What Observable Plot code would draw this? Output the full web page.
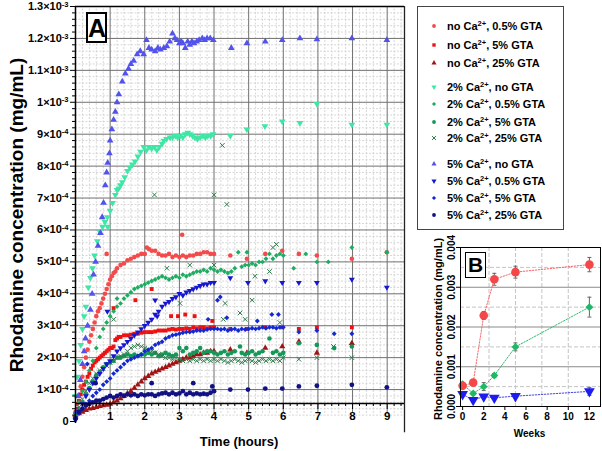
<!DOCTYPE html>
<html><head><meta charset="utf-8">
<script src="https://cdn.jsdelivr.net/npm/d3@7"></script>
<script src="https://cdn.jsdelivr.net/npm/@observablehq/plot@0.6"></script>
<style>
body{margin:0;background:#fff;font-family:"Liberation Sans",Arial,sans-serif;}
#wrap{position:relative;width:602px;height:451px;overflow:hidden;background:#fff;}
#wrap svg{position:absolute;}
.box{position:absolute;border:2px solid #000;background:#fff;font-weight:bold;text-align:center;box-sizing:border-box;}
#legend{position:absolute;left:417px;top:6px;width:147px;height:224px;border:1.5px solid #444;box-sizing:border-box;background:#fff;}
.lrow{position:absolute;left:0;height:14px;font-size:11px;font-weight:bold;line-height:14px;white-space:nowrap;}
.lrow svg{position:absolute;left:11px;top:2px;}
.lrow span{position:absolute;left:29px;top:0;}
.lrow sup{font-size:7.5px;vertical-align:0;position:relative;top:-4px;}
</style></head><body><div id="wrap"></div>
<script>
// ---- Panel A data: [time (hours), concentration in units of 1e-4 mg/mL] ----
const noCa_05GTA = [[0,0.3],[0.05,0.55],[0.1,0.8],[0.15,1.1],[0.2,1.4],[0.25,1.7],[0.3,2.0],[0.35,2.25],[0.4,2.5],[0.45,2.7],[0.5,2.9],[0.55,3.1],[0.6,3.3],[0.65,3.45],[0.7,3.55],[0.75,3.7],[0.8,3.85],[0.85,4.0],[0.9,4.15],[0.9,5.25],[0.95,4.3],[1.0,4.45],[1.05,4.55],[1.1,4.65],[1.15,4.7],[1.2,4.8],[1.3,4.9],[1.4,4.95],[1.5,5.05],[1.6,5.1],[1.7,5.15],[1.8,5.2],[1.9,5.25],[2.0,5.25],[2.06,5.45],[2.12,5.4],[2.2,5.35],[2.3,5.35],[2.4,5.25],[2.5,5.2],[2.6,5.2],[2.7,5.25],[2.8,5.15],[2.9,5.2],[3.0,5.15],[3.08,5.85],[3.1,5.2],[3.2,5.15],[3.3,5.2],[3.4,5.2],[3.5,5.25],[3.6,5.25],[3.7,5.3],[3.8,5.3],[3.9,5.25],[4.0,5.25],[4.47,5.2],[4.95,5.1],[5.48,5.25],[5.97,5.35],[6.45,5.25],[6.97,5.2],[7.98,5.1],[8.99,5.3]];
const noCa_5GTA = [[0,0.1],[0.05,0.4],[0.1,0.65],[0.15,0.85],[0.2,1.0],[0.25,1.15],[0.3,1.25],[0.35,1.4],[0.4,1.5],[0.45,1.65],[0.5,1.75],[0.55,1.85],[0.6,1.9],[0.65,1.95],[0.7,2.0],[0.75,2.05],[0.8,2.1],[0.85,2.15],[0.9,2.2],[0.95,2.25],[1.0,2.3],[1.05,2.3],[1.1,2.35],[1.1,3.55],[1.15,2.55],[1.2,2.6],[1.25,2.65],[1.3,2.65],[1.4,2.7],[1.5,2.7],[1.6,2.72],[1.7,2.75],[1.73,3.8],[1.8,2.75],[1.9,2.78],[2.0,2.8],[2.1,2.8],[2.2,2.8],[2.2,4.15],[2.3,2.82],[2.4,2.85],[2.5,2.85],[2.6,2.85],[2.7,2.88],[2.76,3.3],[2.8,2.9],[2.9,2.88],[2.96,3.3],[3.0,2.9],[3.1,2.9],[3.17,3.35],[3.2,2.92],[3.3,2.9],[3.4,2.95],[3.44,3.3],[3.5,2.92],[3.6,2.95],[3.7,2.95],[3.8,2.92],[3.9,2.95],[3.95,3.15],[4.0,2.95],[4.47,2.9],[4.95,2.9],[5.48,2.95],[5.97,2.95],[6.45,2.9],[6.97,2.95],[7.98,2.95]];
const noCa_25GTA = [[0,0.2],[0.1,0.25],[0.2,0.3],[0.3,0.35],[0.4,0.4],[0.5,0.42],[0.6,0.45],[0.7,0.48],[0.8,0.5],[0.9,0.52],[1.0,0.55],[1.1,0.6],[1.2,0.65],[1.3,0.72],[1.4,0.8],[1.5,0.88],[1.6,0.95],[1.7,1.05],[1.8,1.15],[1.9,1.25],[2.0,1.35],[2.1,1.42],[2.2,1.5],[2.3,1.55],[2.4,1.6],[2.5,1.65],[2.6,1.7],[2.7,1.75],[2.8,1.8],[2.9,1.85],[3.0,1.9],[3.1,1.95],[3.2,2.0],[3.3,2.0],[3.4,2.05],[3.5,2.1],[3.6,2.1],[3.7,2.15],[3.8,2.15],[3.9,2.2],[4.0,2.2],[4.47,2.25],[4.95,2.15],[5.48,2.3],[5.97,2.35],[6.45,2.5],[6.97,2.15],[7.98,2.45]];
const Ca2_noGTA = [[0,0.8],[0.05,1.4],[0.1,1.9],[0.15,2.4],[0.2,2.9],[0.25,3.3],[0.3,3.6],[0.37,4.2],[0.43,4.5],[0.49,4.8],[0.55,5.2],[0.63,5.65],[0.7,5.95],[0.78,6.1],[0.85,6.25],[0.92,6.4],[0.93,6.1],[1.0,6.6],[1.07,6.85],[1.15,7.1],[1.2,7.25],[1.25,7.3],[1.3,7.4],[1.35,7.5],[1.42,7.65],[1.5,7.85],[1.57,7.95],[1.64,8.05],[1.72,8.15],[1.8,8.3],[1.88,8.45],[1.97,8.6],[2.05,8.5],[2.12,8.6],[2.2,8.55],[2.28,8.6],[2.35,8.5],[2.42,8.6],[2.5,8.7],[2.55,8.8],[2.63,8.85],[2.73,8.9],[2.8,8.9],[2.88,8.95],[2.95,8.9],[3.02,8.95],[3.1,8.9],[3.17,9.0],[3.24,9.05],[3.3,9.0],[3.38,8.95],[3.45,8.9],[3.52,8.85],[3.6,8.9],[3.68,8.95],[3.75,8.9],[3.82,8.95],[3.9,8.95],[3.97,9.0],[4.47,8.95],[4.95,9.15],[5.47,9.25],[5.97,9.4],[6.48,9.35],[6.97,9.95],[7.98,9.3],[8.99,9.3]];
const Ca2_05GTA = [[0,0.2],[0.1,0.6],[0.2,0.95],[0.3,1.25],[0.4,1.6],[0.5,1.9],[0.6,2.3],[0.7,2.65],[0.8,2.9],[0.9,3.1],[1.0,3.3],[1.1,3.45],[1.2,3.6],[1.2,3.85],[1.3,3.7],[1.4,3.85],[1.5,3.95],[1.6,4.05],[1.7,4.15],[1.8,4.2],[1.9,4.25],[2.0,4.3],[2.1,4.35],[2.2,4.4],[2.3,4.45],[2.4,4.5],[2.5,4.55],[2.6,4.5],[2.7,4.45],[2.8,4.5],[2.9,4.55],[3.0,4.5],[3.1,4.6],[3.2,4.55],[3.3,4.6],[3.4,4.65],[3.5,4.7],[3.6,4.7],[3.7,4.75],[3.8,4.7],[3.9,4.8],[4.0,4.75],[4.1,4.7],[4.2,4.75],[4.3,4.7],[4.4,4.65],[4.5,4.7],[4.6,4.8],[4.7,5.3],[4.8,4.85],[4.9,4.9],[4.95,5.3],[5.0,4.9],[5.1,4.95],[5.2,4.9],[5.3,5.0],[5.4,5.0],[5.5,5.1],[5.6,5.25],[5.7,5.1],[5.8,5.2],[5.9,5.25],[6.0,5.2],[6.3,4.8],[6.65,5.25],[6.97,5.0],[7.3,5.0],[7.98,5.45],[8.99,5.3]];
const Ca2_5GTA = [[0,0.1],[0.1,0.35],[0.2,0.6],[0.3,0.85],[0.4,1.05],[0.5,1.25],[0.6,1.45],[0.7,1.55],[0.8,1.7],[0.9,1.8],[1.0,1.85],[1.1,1.9],[1.2,2.0],[1.3,2.0],[1.4,2.05],[1.5,2.1],[1.6,2.05],[1.7,2.1],[1.8,2.05],[1.9,2.1],[2.0,2.1],[2.1,2.15],[2.2,2.1],[2.3,2.15],[2.4,2.05],[2.5,2.1],[2.6,2.15],[2.7,2.1],[2.8,2.05],[2.9,2.1],[3.0,2.3],[3.1,2.2],[3.2,2.3],[3.3,2.1],[3.4,2.15],[3.5,2.2],[3.6,2.3],[3.7,2.15],[3.8,2.2],[3.9,2.2],[4.0,2.15],[4.1,2.1],[4.2,2.15],[4.3,2.2],[4.4,2.1],[4.5,2.15],[4.6,2.2],[4.75,2.35],[4.8,2.15],[4.9,2.1],[5.0,2.15],[5.1,2.2],[5.2,2.1],[5.3,2.15],[5.4,2.2],[5.6,2.6],[5.7,2.15],[5.8,2.2],[5.9,2.1],[6.0,2.15],[6.45,2.45],[6.97,2.4],[7.47,2.3],[7.98,2.35]];
const Ca2_25GTA = [[0,0.2],[0.1,0.45],[0.2,0.7],[0.3,0.95],[0.4,1.2],[0.5,1.35],[0.6,1.5],[0.7,1.6],[0.8,1.65],[0.9,1.75],[1.0,1.85],[1.1,1.9],[1.1,3.2],[1.2,2.0],[1.3,2.05],[1.4,2.1],[1.5,2.2],[1.6,2.3],[1.7,2.35],[1.8,2.4],[1.9,2.35],[2.0,2.3],[2.1,2.25],[2.2,2.2],[2.28,7.1],[2.3,2.15],[2.4,2.1],[2.5,2.05],[2.6,2.0],[2.64,4.8],[2.7,2.0],[2.8,1.95],[2.9,2.0],[3.0,1.95],[3.02,3.7],[3.1,1.9],[3.2,1.95],[3.3,1.9],[3.3,4.9],[3.4,1.95],[3.5,1.9],[3.6,1.95],[3.7,1.9],[3.8,1.95],[3.9,1.9],[4.0,1.95],[4.0,4.9],[4.0,7.1],[4.1,1.9],[4.2,1.95],[4.24,8.65],[4.27,3.2],[4.3,1.9],[4.32,3.7],[4.37,6.8],[4.4,1.85],[4.5,1.9],[4.6,1.95],[4.7,1.9],[4.75,3.4],[4.8,1.85],[4.9,1.9],[4.9,3.2],[5.0,1.95],[5.1,1.9],[5.1,3.8],[5.18,4.55],[5.2,1.85],[5.3,1.9],[5.4,1.95],[5.5,1.9],[5.6,4.7],[5.6,1.95],[5.7,5.45],[5.7,1.9],[5.8,5.55],[5.8,1.95],[5.9,3.1],[5.9,1.9],[6.0,2.0],[6.45,1.95],[6.97,2.0],[7.45,2.35],[7.98,2.0]];
const Ca5_noGTA = [[0.02,0.3],[0.08,0.8],[0.14,1.3],[0.2,1.8],[0.25,2.2],[0.29,2.6],[0.35,3.0],[0.43,3.5],[0.48,4.0],[0.52,4.6],[0.58,5.0],[0.65,5.5],[0.72,5.9],[0.77,6.4],[0.81,6.85],[0.86,7.4],[0.9,7.8],[0.93,8.1],[0.98,8.4],[1.0,8.8],[1.05,9.15],[1.1,9.45],[1.15,9.7],[1.2,10.0],[1.25,10.25],[1.35,10.65],[1.44,10.9],[1.53,11.05],[1.6,11.2],[1.68,11.3],[1.78,11.5],[1.87,11.6],[1.97,11.5],[2.05,11.95],[2.12,11.7],[2.2,11.65],[2.3,11.6],[2.38,11.7],[2.45,11.65],[2.55,11.7],[2.64,11.75],[2.72,11.9],[2.8,12.15],[2.87,12.0],[2.93,11.95],[3.0,11.85],[3.05,11.9],[3.1,11.85],[3.17,11.7],[3.24,11.9],[3.3,11.8],[3.36,11.9],[3.42,11.85],[3.5,11.9],[3.57,11.95],[3.66,12.0],[3.73,11.95],[3.8,12.0],[3.89,12.0],[3.98,11.95],[4.5,11.7],[4.95,11.85],[5.48,11.9],[5.97,11.95],[6.48,12.0],[6.97,11.97],[7.98,12.0],[8.99,11.95]];
const Ca5_05GTA = [[0,0.05],[0.1,0.3],[0.2,0.55],[0.3,0.8],[0.4,1.0],[0.5,1.2],[0.6,1.35],[0.7,1.5],[0.8,1.65],[0.9,1.8],[0.92,3.45],[1.0,1.9],[1.1,2.05],[1.2,2.2],[1.3,2.3],[1.4,2.4],[1.5,2.5],[1.6,2.6],[1.7,2.7],[1.8,2.8],[1.9,2.9],[2.0,3.0],[2.1,3.1],[2.2,3.2],[2.3,3.8],[2.3,3.35],[2.36,3.3],[2.4,3.45],[2.5,3.6],[2.6,3.7],[2.7,3.75],[2.8,3.85],[2.9,3.9],[3.0,4.0],[3.1,3.95],[3.2,4.05],[3.3,4.1],[3.4,4.15],[3.5,4.2],[3.6,4.25],[3.7,4.3],[3.8,4.3],[3.9,4.35],[4.0,4.35],[4.47,4.5],[4.98,4.35],[5.48,4.4],[5.97,4.35],[6.45,4.35],[6.97,4.35],[7.98,4.45],[8.99,4.2]];
const Ca5_5GTA = [[0,0.1],[0.1,0.25],[0.2,0.4],[0.3,0.55],[0.34,1.8],[0.4,0.65],[0.5,0.8],[0.6,0.9],[0.7,1.0],[0.8,1.15],[0.9,1.25],[1.0,1.35],[1.1,1.5],[1.2,1.6],[1.3,1.7],[1.4,1.8],[1.5,1.9],[1.6,1.95],[1.7,2.0],[1.8,2.05],[1.9,2.1],[2.0,2.2],[2.1,2.25],[2.2,2.3],[2.3,2.4],[2.4,2.45],[2.5,2.5],[2.6,2.6],[2.7,2.65],[2.8,2.7],[2.9,2.72],[3.0,2.75],[3.1,2.78],[3.2,2.8],[3.3,2.8],[3.4,2.82],[3.5,2.85],[3.6,2.85],[3.7,2.85],[3.8,2.88],[3.83,3.2],[3.9,2.9],[4.0,2.9],[4.1,2.9],[4.1,3.8],[4.18,3.9],[4.2,2.88],[4.3,2.9],[4.37,3.25],[4.4,2.85],[4.5,2.88],[4.6,2.9],[4.7,2.85],[4.8,2.9],[4.9,2.88],[5.0,2.9],[5.1,2.92],[5.2,2.9],[5.25,3.15],[5.3,2.92],[5.4,2.95],[5.5,2.92],[5.6,2.95],[5.67,3.35],[5.7,2.95],[5.8,2.92],[5.86,3.35],[5.9,2.95],[6.0,2.95],[6.45,2.8],[6.97,2.85],[7.47,2.75],[7.98,2.75]];
const Ca5_25GTA = [[0,0.1],[0.1,0.3],[0.2,0.4],[0.3,0.5],[0.4,0.55],[0.5,0.6],[0.58,1.2],[0.6,0.65],[0.7,0.65],[0.8,0.7],[0.9,0.75],[1.0,0.8],[1.1,0.75],[1.2,0.8],[1.3,0.85],[1.4,0.8],[1.5,0.85],[1.6,0.82],[1.7,0.85],[1.8,0.8],[1.9,0.85],[2.0,0.82],[2.1,0.85],[2.2,1.2],[2.2,0.85],[2.3,0.8],[2.4,0.85],[2.5,0.88],[2.6,0.9],[2.7,0.85],[2.8,0.9],[2.9,0.85],[3.0,0.88],[3.1,0.95],[3.2,0.85],[3.3,0.9],[3.4,1.2],[3.4,0.85],[3.5,0.88],[3.6,0.85],[3.7,0.87],[3.8,0.85],[3.9,0.9],[3.95,1.1],[4.0,0.95],[4.47,1.0],[4.98,1.0],[5.48,1.03],[5.97,1.03],[6.45,1.1],[6.97,1.12],[7.98,1.15],[8.99,1.07]];

// ---- Panel B data (weeks, mg/mL) ----
const weeks = [0,1,2,3,5,12];
const B_noCa = [0.00052,0.00060,0.00229,0.00320,0.00338,0.00357];
const B_noCa_err = [0.00005,0.00005,0.00010,0.00015,0.00015,0.00018];
const B_2Ca = [0.00056,0.00033,0.00050,0.00078,0.00150,0.00250];
const B_2Ca_err = [0.00004,0.00003,0.00010,0.00005,0.00010,0.00025];
const B_5Ca = [0.00031,0.00016,0.00025,0.00022,0.00026,0.00038];
const B_5Ca_err = [0.00004,0.00003,0.00003,0.00003,0.00003,0.00010];

// ---- tick values ----
const xTicksA = [1,2,3,4,5,6,7,8,9];
const yTicksA = [0,1,2,3,4,5,6,7,8,9,10,11,12,13];
const xTicksB = [0,2,4,6,8,10,12];
const yTicksB = [0,0.001,0.002,0.003,0.004];

// custom symbols
const sqrt3 = Math.sqrt(3);
const triDown = {draw(c, size){const y=-Math.sqrt(size/(sqrt3*3)); c.moveTo(0,-y*2); c.lineTo(-sqrt3*y,y); c.lineTo(sqrt3*y,y); c.closePath();}};
const capSym = {draw(c, size){const w=Math.sqrt(size/Math.PI); c.moveTo(-w,0); c.lineTo(w,0);}};

const series = [
  {label:"no Ca<sup>2+</sup>, 0.5% GTA", data:noCa_05GTA, symbol:d3.symbolCircle, color:"#f34b4b", r:2.3},
  {label:"no Ca<sup>2+</sup>, 5% GTA", data:noCa_5GTA, symbol:d3.symbolSquare, color:"#ee1111", r:2.2},
  {label:"no Ca<sup>2+</sup>, 25% GTA", data:noCa_25GTA, symbol:d3.symbolTriangle, color:"#a11414", r:2.3},
  {label:"2% Ca<sup>2+</sup>, no GTA", data:Ca2_noGTA, symbol:triDown, color:"#3fe6a6", r:2.5},
  {label:"2% Ca<sup>2+</sup>, 0.5% GTA", data:Ca2_05GTA, symbol:d3.symbolDiamond2, color:"#1fac62", r:2.2},
  {label:"2% Ca<sup>2+</sup>, 5% GTA", data:Ca2_5GTA, symbol:d3.symbolCircle, color:"#149858", r:2.3},
  {label:"2% Ca<sup>2+</sup>, 25% GTA", data:Ca2_25GTA, symbol:d3.symbolTimes, color:"#2f7a4c", r:2.2, stroke:true},
  {label:"5% Ca<sup>2+</sup>, no GTA", data:Ca5_noGTA, symbol:d3.symbolTriangle, color:"#5252ec", r:2.5},
  {label:"5% Ca<sup>2+</sup>, 0.5% GTA", data:Ca5_05GTA, symbol:triDown, color:"#1717cf", r:2.2},
  {label:"5% Ca<sup>2+</sup>, 5% GTA", data:Ca5_5GTA, symbol:d3.symbolDiamond2, color:"#1428d2", r:2.2},
  {label:"5% Ca<sup>2+</sup>, 25% GTA", data:Ca5_25GTA, symbol:d3.symbolCircle, color:"#111184", r:2.4}
];

const wrap = document.getElementById("wrap");
const font = "'Liberation Sans', Arial, sans-serif";

// ---------- Panel A ----------
const minorX = d3.range(0, 9.5001, 0.2).filter(v => Math.abs(v - Math.round(v)) > 1e-6);
const minorY = d3.range(0, 13.0001, 0.2).filter(v => Math.abs(v - Math.round(v)) > 1e-6);
const fmtY = v => v === 0 ? "0" : (v < 10 ? `${v}×10|-4` : `${v/10}×10|-3`);

const dotMarks = series.map(s => Plot.dot(s.data, {
  x: d => d[0], y: d => d[1], symbol: s.symbol, r: s.r,
  fill: s.stroke ? "none" : s.color, stroke: s.stroke ? s.color : "none", strokeWidth: 1
}));

const A = Plot.plot({
  width: 410, height: 451,
  marginLeft: 75, marginRight: 6, marginTop: 6, marginBottom: 30,
  x: {domain: [0, 9.5], label: null},
  y: {domain: [0, 13], label: null},
  style: {fontFamily: font, fontWeight: "bold", fontSize: "11px", background: "transparent", overflow: "visible"},
  marks: [
    Plot.ruleX(minorX, {y1: 0.25, y2: 13, stroke: "#cdcdcd", strokeDasharray: "2,1.5", strokeWidth: 0.8}),
    Plot.ruleY(minorY, {stroke: "#cdcdcd", strokeDasharray: "2,1.5", strokeWidth: 0.8}),
    Plot.ruleX(xTicksA, {y1: 0.25, y2: 13, stroke: "#707070", strokeWidth: 1}),
    Plot.ruleY(yTicksA.filter(v => v > 0 && v < 13), {stroke: "#707070", strokeWidth: 1}),
    ...dotMarks,
    Plot.ruleY([13], {stroke: "#000", strokeWidth: 1.5}),
    Plot.ruleX([0], {y1: -0.06, y2: 13, stroke: "#000", strokeWidth: 1.5}),
    Plot.ruleX([9.5], {y1: -0.35, y2: 13, stroke: "#222", strokeWidth: 1.3}),
    Plot.ruleY([0], {dy: -18, stroke: "#000", strokeWidth: 1.3}),
    Plot.axisX(minorX, {anchor: "bottom", dy: -18, tickSize: 3, text: null}),
    Plot.axisX(xTicksA, {anchor: "bottom", dy: -18, tickSize: 6, tickPadding: 2, fontSize: 11.5}),
    Plot.axisY(minorY, {anchor: "left", tickSize: 3, text: null}),
    Plot.axisY(yTicksA, {anchor: "left", tickSize: 5, tickPadding: 2, tickFormat: fmtY, fontSize: 11}),
    Plot.text(["Rhodamine concentration (mg/mL)"], {frameAnchor: "left", dx: -59, dy: 1, rotate: -90, fontSize: 19, fontWeight: "bold", textAnchor: "middle", lineAnchor: "middle"}),
    Plot.text(["Time (hours)"], {frameAnchor: "bottom", dx: -1, dy: 20, fontSize: 13, fontWeight: "bold", lineAnchor: "middle"})
  ]
});
A.style.left = "0px"; A.style.top = "0px";
A.querySelectorAll('g[aria-label="y-axis tick label"] text').forEach(t => {
  const s = t.textContent; if (!s.includes("|")) return;
  const [base, exp] = s.split("|");
  t.textContent = base;
  const ts = document.createElementNS("http://www.w3.org/2000/svg", "tspan");
  ts.setAttribute("dy", "-0.45em"); ts.setAttribute("font-size", "7.5px");
  ts.textContent = exp; t.appendChild(ts);
});
wrap.appendChild(A);

// ---------- Panel B ----------
const mk = (vals, errs) => weeks.map((w, i) => ({w, v: vals[i], e: errs[i]}));
const bRed = mk(B_noCa, B_noCa_err), bGreen = mk(B_2Ca, B_2Ca_err), bBlue = mk(B_5Ca, B_5Ca_err);
const errMarks = d => [
  Plot.ruleX(d, {x: "w", y1: r => r.v - r.e, y2: r => r.v + r.e, stroke: "#666", strokeWidth: 1}),
  Plot.dot(d, {x: "w", y: r => r.v + r.e, symbol: capSym, r: 2, stroke: "#666", strokeWidth: 1}),
  Plot.dot(d, {x: "w", y: r => r.v - r.e, symbol: capSym, r: 2, stroke: "#666", strokeWidth: 1})
];
const B = Plot.plot({
  width: 202, height: 226,
  marginLeft: 60, marginRight: 2, marginTop: 22, marginBottom: 45,
  x: {domain: [-0.2, 13.05], label: null},
  y: {domain: [0, 0.004], label: null},
  style: {fontFamily: font, fontWeight: "bold", fontSize: "10px", background: "transparent", overflow: "visible"},
  marks: [
    Plot.ruleX([2.5, 5, 7.5, 10], {stroke: "#c4c4c4", strokeDasharray: "4,2"}),
    Plot.ruleY([0.0005, 0.0015, 0.0025, 0.0035], {stroke: "#c4c4c4", strokeDasharray: "4,2"}),
    Plot.ruleY([0.001, 0.002, 0.003], {stroke: "#8a8a8a", strokeWidth: 1}),
    Plot.line(bRed, {x: "w", y: "v", stroke: "#f56a6a", strokeDasharray: "1.5,1.5", strokeWidth: 1}),
    Plot.line(bGreen, {x: "w", y: "v", stroke: "#2fbb70", strokeDasharray: "1.5,1.5", strokeWidth: 1}),
    Plot.line(bBlue, {x: "w", y: "v", stroke: "#4a4ae0", strokeDasharray: "1.5,1.5", strokeWidth: 1}),
    ...errMarks(bRed), ...errMarks(bGreen), ...errMarks(bBlue),
    Plot.dot(bBlue, {x: "w", y: "v", symbol: triDown, r: 4.0, fill: "#1c1cf0"}),
    Plot.dot(bGreen, {x: "w", y: "v", symbol: d3.symbolDiamond2, r: 3.6, fill: "#1fb866"}),
    Plot.dot(bRed, {x: "w", y: "v", symbol: d3.symbolCircle, r: 4.3, fill: "#f44848"}),
    Plot.frame({stroke: "#000", strokeWidth: 1}),
    Plot.axisX(xTicksB, {anchor: "bottom", tickSize: 4, tickPadding: 2, fontSize: 10}),
    Plot.axisY(yTicksB, {anchor: "left", tickSize: 4, tickPadding: 2, tickFormat: d3.format(".3f"), tickRotate: -90, fontSize: 10}),
    Plot.text(["Rhodamine concentration (mg/mL)"], {frameAnchor: "left", dx: -22, dy: 2, rotate: -90, fontSize: 11, fontWeight: "bold", textAnchor: "middle", lineAnchor: "middle"}),
    Plot.text(["Weeks"], {frameAnchor: "bottom", dx: -1, dy: 27, fontSize: 10, fontWeight: "bold", lineAnchor: "middle"})
  ]
});
B.style.left = "400px"; B.style.top = "225px";
wrap.appendChild(B);

// ---------- labels A / B ----------
const boxA = document.createElement("div");
boxA.className = "box";
Object.assign(boxA.style, {left: "86px", top: "12px", width: "21px", height: "31px", fontSize: "25px", lineHeight: "28px"});
boxA.textContent = "A"; wrap.appendChild(boxA);
const boxB = document.createElement("div");
boxB.className = "box";
Object.assign(boxB.style, {left: "465px", top: "252px", width: "21px", height: "26px", fontSize: "21px", lineHeight: "23px", borderWidth: "1.5px"});
boxB.textContent = "B"; wrap.appendChild(boxB);

// ---------- legend ----------
const legend = document.createElement("div");
legend.id = "legend";
const rowY = [25, 44, 62, 86, 103, 121, 137, 163, 180, 197, 214];
series.forEach((s, i) => {
  const row = document.createElement("div");
  row.className = "lrow";
  row.style.top = (rowY[i] - 6 - 7) + "px";
  const sz = Math.PI * 1.9 * 1.9;
  const path = d3.symbol().type(s.symbol).size(sz)();
  row.innerHTML = `<svg width="10" height="10" viewBox="-5 -5 10 10"><path d="${path}" fill="${s.stroke ? "none" : s.color}" stroke="${s.stroke ? s.color : "none"}" stroke-width="1"/></svg><span>${s.label}</span>`;
  legend.appendChild(row);
});
wrap.appendChild(legend);
</script></body></html>
